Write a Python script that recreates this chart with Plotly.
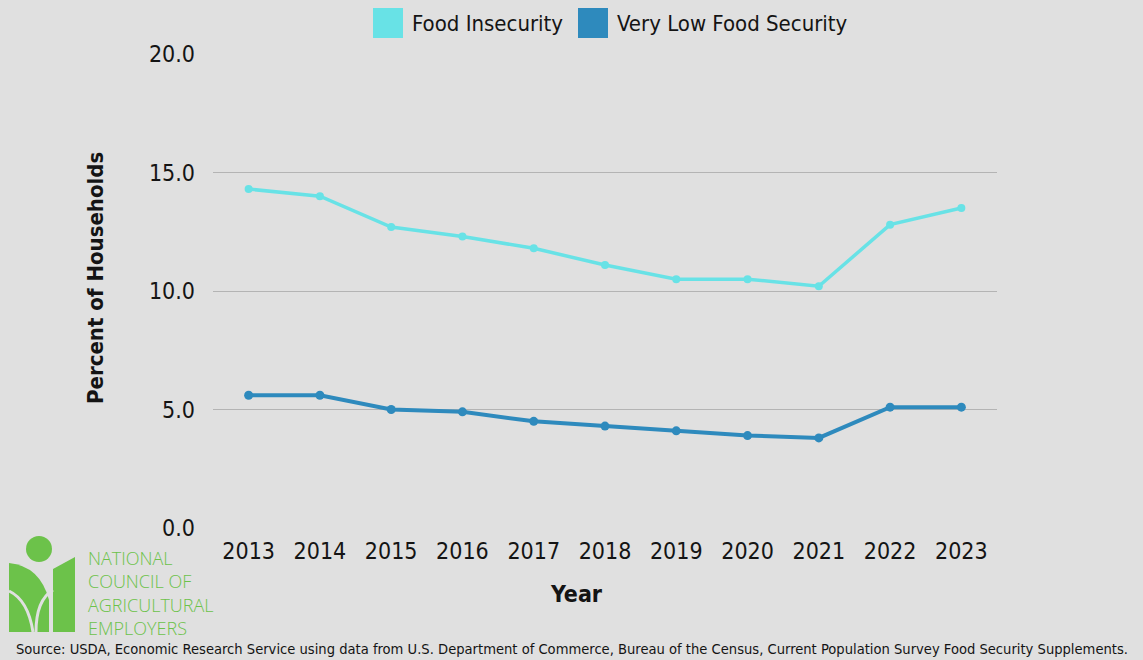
import plotly.graph_objects as go

years = ["2013", "2014", "2015", "2016", "2017", "2018", "2019", "2020", "2021", "2022", "2023"]
food_insecurity = [14.3, 14.0, 12.7, 12.3, 11.8, 11.1, 10.5, 10.5, 10.2, 12.8, 13.5]
very_low_food_security = [5.6, 5.6, 5.0, 4.9, 4.5, 4.3, 4.1, 3.9, 3.8, 5.1, 5.1]
y_ticks = [0, 5, 10, 15, 20]
y_tick_labels = ["0.0", "5.0", "10.0", "15.0", "20.0"]
series_names = ["Food Insecurity", "Very Low Food Security"]
logo_lines = ["NATIONAL", "COUNCIL OF", "AGRICULTURAL", "EMPLOYERS"]
source_text = ("Source: USDA, Economic Research Service using data from U.S. Department of Commerce, "
               "Bureau of the Census, Current Population Survey Food Security Supplements.")

W, H = 1143, 660
L, R, T, B = 213, 997, 54, 528
BG = "#e0e0e0"
C_LIGHT = "#68e2e6"
C_DARK = "#2e8abd"
GREEN = "#6cc24a"
TXT = "#141414"
FONT = "DejaVu Sans Condensed, Liberation Sans Narrow, Arial Narrow, sans-serif"


def px(x):
    return (x - L) / (R - L)


def py(y):
    return (B - y) / (B - T)


fig = go.Figure()
fig.add_trace(go.Scatter(x=years, y=food_insecurity, mode="lines+markers", name=series_names[0],
                         line=dict(color=C_LIGHT, width=3.5), marker=dict(size=8, color=C_LIGHT),
                         showlegend=False))
fig.add_trace(go.Scatter(x=years, y=very_low_food_security, mode="lines+markers", name=series_names[1],
                         line=dict(color=C_DARK, width=4), marker=dict(size=9, color=C_DARK),
                         showlegend=False))

shapes = []
annotations = []

# Legend (manual)
legend_items = [(373, series_names[0], C_LIGHT), (578, series_names[1], C_DARK)]
for x0, name, col in legend_items:
    shapes.append(dict(type="rect", xref="paper", yref="paper", x0=px(x0), x1=px(x0 + 30),
                       y0=py(38), y1=py(8), fillcolor=col, line=dict(width=0), layer="above"))
    annotations.append(dict(text=name, xref="paper", yref="paper", x=px(x0 + 37), y=py(23),
                            xanchor="left", yanchor="middle", showarrow=False,
                            font=dict(family=FONT, size=22, color=TXT)))

# Axis titles
annotations.append(dict(text="<b>Percent of Households</b>", xref="paper", yref="paper",
                        x=px(95), y=py(278), textangle=-90, xanchor="center", yanchor="middle",
                        showarrow=False, font=dict(family=FONT, size=22, color=TXT)))
annotations.append(dict(text="<b>Year</b>", xref="paper", yref="paper",
                        x=px(576), y=py(594), xanchor="center", yanchor="middle",
                        showarrow=False, font=dict(family=FONT, size=23, color=TXT)))

# Source
annotations.append(dict(text=source_text, xref="paper", yref="paper",
                        x=px(572), y=py(648), xanchor="center", yanchor="middle",
                        showarrow=False, font=dict(family=FONT, size=14.6, color=TXT)))

# Logo text
annotations.append(dict(text="<br>".join(logo_lines), xref="paper", yref="paper",
                        x=px(86), y=py(593), xanchor="left", yanchor="middle", align="left",
                        showarrow=False,
                        font=dict(family="Open Sans, sans-serif", size=18, color=GREEN, weight=300)))

# Logo graphic
shapes.append(dict(type="circle", xref="paper", yref="paper", x0=px(26), x1=px(52),
                   y0=py(562), y1=py(536), fillcolor=GREEN, line=dict(width=0), layer="above"))
shapes.append(dict(type="path", xref="paper", yref="paper",
                   path=f"M {px(9)} {py(563)} Q {px(40)} {py(566)} {px(49)} {py(600)} "
                        f"L {px(49)} {py(632)} L {px(9)} {py(632)} Z",
                   fillcolor=GREEN, line=dict(width=0), layer="above"))
shapes.append(dict(type="path", xref="paper", yref="paper",
                   path=f"M {px(53)} {py(569)} L {px(75)} {py(557)} L {px(75)} {py(632)} "
                        f"L {px(53)} {py(632)} Z",
                   fillcolor=GREEN, line=dict(width=0), layer="above"))
shapes.append(dict(type="path", xref="paper", yref="paper",
                   path=f"M {px(9)} {py(591)} Q {px(28)} {py(600)} {px(33)} {py(632)}",
                   line=dict(color=BG, width=3), layer="above"))
shapes.append(dict(type="path", xref="paper", yref="paper",
                   path=f"M {px(36)} {py(632)} Q {px(36)} {py(600)} {px(53)} {py(590)}",
                   line=dict(color=BG, width=3), layer="above"))

fig.update_layout(
    width=W, height=H,
    margin=dict(l=L, r=W - R, t=T, b=H - B),
    paper_bgcolor=BG, plot_bgcolor=BG,
    font=dict(family=FONT, color=TXT),
    shapes=shapes, annotations=annotations,
    showlegend=False,
)
fig.update_xaxes(type="category", range=[-0.5, 10.5], showgrid=False, zeroline=False,
                 showline=False, ticks="", tickfont=dict(family=FONT, size=23, color=TXT),
                 ticklabelstandoff=7, fixedrange=True)
fig.update_yaxes(range=[0, 20], tickvals=y_ticks, ticktext=y_tick_labels, showgrid=True,
                 gridcolor="#b4b4b4", gridwidth=1, zeroline=False, showline=False, ticks="",
                 tickfont=dict(family=FONT, size=23, color=TXT), ticklabelstandoff=17,
                 fixedrange=True)

fig.write_html("out.html", config={"displayModeBar": False})
